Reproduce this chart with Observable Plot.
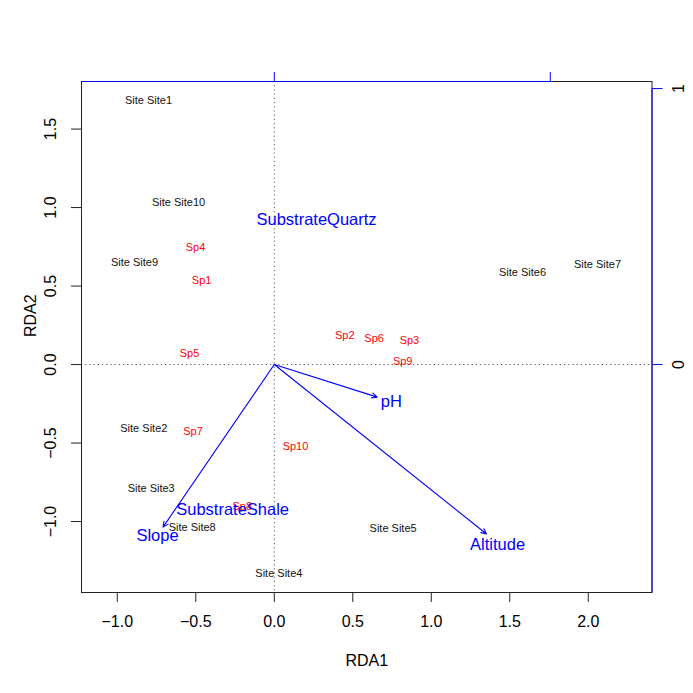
<!DOCTYPE html>
<html><head><meta charset="utf-8">
<script src="https://cdn.jsdelivr.net/npm/d3@7"></script>
<script src="https://cdn.jsdelivr.net/npm/@observablehq/plot@0.6"></script>
<style>body{margin:0;background:#fff;overflow:hidden}</style>
</head><body><div id="chart"></div>
<script>
// Site scores (RDA1, RDA2)
const siteLabels = ["Site Site1","Site Site2","Site Site3","Site Site4","Site Site5","Site Site6","Site Site7","Site Site8","Site Site9","Site Site10"];
const siteX = [-0.801, -0.831, -0.784, 0.029, 0.757, 1.581, 2.059, -0.523, -0.890, -0.610];
const siteY = [1.682, -0.406, -0.792, -1.333, -1.043, 0.586, 0.637, -1.038, 0.650, 1.032];

// Species scores
const spLabels = ["Sp1","Sp2","Sp3","Sp4","Sp5","Sp6","Sp7","Sp8","Sp9","Sp10"];
const spX = [-0.463, 0.449, 0.861, -0.502, -0.540, 0.636, -0.518, -0.204, 0.818, 0.135];
const spY = [0.535, 0.183, 0.151, 0.745, 0.068, 0.166, -0.425, -0.904, 0.019, -0.522];

// Environmental biplot arrows (arrow-axis units)
const envNames = ["pH","Altitude","Slope"];
const envX = [0.373, 0.769, -0.403];
const envY = [-0.118, -0.614, -0.589];
const envLabelX = [0.424, 0.809, -0.423];
const envLabelY = [-0.134, -0.652, -0.620];

// Factor centroids (arrow-axis units)
const factorNames = ["SubstrateQuartz","SubstrateShale"];
const factorX = [0.153, -0.151];
const factorY = [0.525, -0.525];

// Axes
const xTicks = [-1, -0.5, 0, 0.5, 1, 1.5, 2];
const yTicks = [-1, -0.5, 0, 0.5, 1, 1.5];
const secTicks = [0, 1];
const arrowMul = 1.758;
const xDomain = [-1.228, 2.406];
const yDomain = [-1.452, 1.803];
const xTitle = "RDA1", yTitle = "RDA2";

const sites = siteLabels.map((l,i)=>({label:l, x:siteX[i], y:siteY[i]}));
const species = spLabels.map((l,i)=>({label:l, x:spX[i], y:spY[i]}));
const env = envNames.map((l,i)=>({label:l, x:envX[i]*arrowMul, y:envY[i]*arrowMul, lx:envLabelX[i]*arrowMul, ly:envLabelY[i]*arrowMul}));
const factors = factorNames.map((l,i)=>({label:l, x:factorX[i]*arrowMul, y:factorY[i]*arrowMul}));
const sec = secTicks.map(t => t*arrowMul);

const fmt = d3.format(".1f");
const blue = "#0000ff";

const chart = Plot.plot({
  width: 693, height: 693,
  marginLeft: 81, marginRight: 41.5, marginTop: 81, marginBottom: 101,
  x: {domain: xDomain},
  y: {domain: yDomain},
  style: {fontFamily: "'Liberation Sans', Arial, Helvetica, sans-serif", background: "white", color: "black"},
  marks: [
    Plot.ruleX([0], {stroke: "#555", strokeDasharray: "1.2,3"}),
    Plot.ruleY([0], {stroke: "#555", strokeDasharray: "1.2,3"}),
    Plot.frame({stroke: "#222"}),
    Plot.ruleY([yDomain[1]], {x1: xDomain[0], x2: sec[1], stroke: blue}),
    Plot.ruleX([xDomain[1]], {y1: yDomain[0], y2: sec[1], stroke: blue}),
    Plot.axisX(xTicks, {anchor: "bottom", tickSize: 10, tickPadding: 13, tickFormat: fmt, fontSize: 16, label: null, stroke: "#222"}),
    Plot.axisY(yTicks, {anchor: "left", tickSize: 10, tickPadding: 16, tickRotate: -90, tickFormat: fmt, fontSize: 16, label: null, stroke: "#222"}),
    Plot.axisX(sec, {anchor: "top", tickSize: 10, stroke: blue, tickFormat: () => "", label: null}),
    Plot.axisY(sec, {anchor: "right", tickSize: 10, tickPadding: 22, stroke: blue, fill: "black", tickRotate: -90, tickFormat: d => String(Math.round(d/arrowMul)), fontSize: 16, label: null}),
    Plot.text([xTitle], {frameAnchor: "bottom", dy: 73, fontSize: 16}),
    Plot.text([yTitle], {frameAnchor: "left", dx: -51, rotate: -90, fontSize: 16}),
    Plot.text(sites, {x: "x", y: "y", text: "label", fill: "#111", fontSize: 11}),
    Plot.text(species, {x: "x", y: "y", text: "label", fill: "#ff0000", fontSize: 11}),
    Plot.arrow(env, {x1: 0, y1: 0, x2: "x", y2: "y", stroke: blue, strokeWidth: 1.1, headLength: 8, headAngle: 50}),
    Plot.text(env, {x: "lx", y: "ly", text: "label", fill: blue, fontSize: 16.5}),
    Plot.text(factors, {x: "x", y: "y", text: "label", fill: blue, fontSize: 16.5})
  ]
});
document.getElementById("chart").appendChild(chart);
</script>
</body></html>
